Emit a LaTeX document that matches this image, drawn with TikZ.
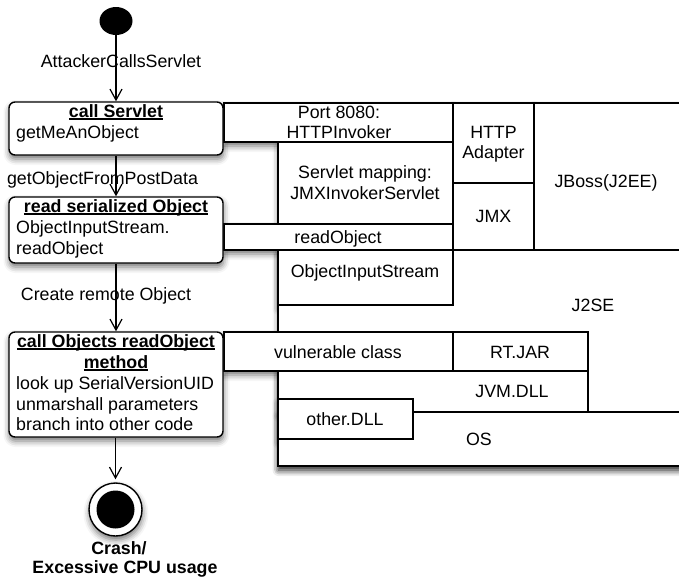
\documentclass[tikz,border=0pt]{standalone}
\usepackage{fontspec}
\setmainfont{Liberation Sans}
\usetikzlibrary{arrows.meta,fit,shapes.geometric,shadows.blur}

% bold text with a thick underline
\newcommand\ulbold[1]{{\setbox0\hbox{\bfseries #1}\rlap{\rule[-2.6pt]{\wd0}{1.3pt}}\box0}}

\begin{document}
\begin{tikzpicture}[x=1pt,y=-1pt,
  txt/.style={inner sep=0pt, font=\fontsize{17.8}{21}\selectfont},
  ctxt/.style={txt, anchor=base},
  ltxt/.style={txt, anchor=base west},
  boxline/.style={draw=black, line width=1.4pt, fill=white},
  layer/.style={boxline, inner sep=0pt},
  state/.style={boxline, inner sep=0pt, rounded corners=6pt},
  dropshade/.style={blur shadow={shadow xshift=0.5pt, shadow yshift=-4pt,
      shadow blur radius=6pt, shadow opacity=55}},
  flow/.style={line width=1.2pt, -{Straight Barb[length=11pt,width=12pt]}}
]
\useasboundingbox (0,0) rectangle (679,579);

% ---- shadows, kept underneath every shape ----
\foreach \xa/\ya/\xb/\yb in {278/250/690/466, 534/103/690/250, 278/412/690/466,
    278/371/588/412, 278/399/413/439, 453/332/588/371, 224/332/453/371,
    278/250/453/305, 278/142/453/224, 224/224/453/250, 453/103/534/183,
    453/183/534/250, 224/103/453/142}
  \path[dropshade] (\xa,\ya) rectangle (\xb,\yb);
\foreach \ya/\yb in {102/155, 197/263, 332/437}
  \path[dropshade, rounded corners=6pt] (9,\ya) rectangle (223,\yb);
\path[dropshade] (115.5,509.5) circle[radius=26.5];

% ---- platform layers ----
\node[layer, fit={(278,250) (690,466)}] (j2se) {};
\node[layer, fit={(534,103) (690,250)}] (jboss) {};
\node[layer, fit={(278,412) (690,466)}] (os) {};
\node[layer, fit={(278,371) (588,412)}] (jvm) {};
\node[layer, fit={(278,399) (413,439)}] (otherdll) {};
\node[layer, fit={(453,332) (588,371)}] (rtjar) {};
\node[layer, fit={(224,332) (453,371)}] (vulnclass) {};
\node[layer, fit={(278,250) (453,305)}] (ois) {};
\node[layer, fit={(278,142) (453,224)}] (mapping) {};
\node[layer, fit={(224,224) (453,250)}] (readobj) {};
\node[layer, fit={(453,103) (534,183)}] (adapter) {};
\node[layer, fit={(453,183) (534,250)}] (jmx) {};
\node[layer, fit={(224,103) (453,142)}] (port) {};

\node[ctxt] (t-port1) at (339,118) {Port 8080:};
\node[ctxt] (t-port2) at (339,138) {HTTPInvoker};
\node[ctxt] (t-adapter1) at (493.5,138) {HTTP};
\node[ctxt] (t-adapter2) at (493.5,158) {Adapter};
\node[ctxt] (t-jboss) at (606,187) {JBoss(J2EE)};
\node[ctxt] (t-map1) at (365,178) {Servlet mapping:};
\node[ctxt] (t-map2) at (365,199) {JMXInvokerServlet};
\node[ctxt] (t-jmx) at (493.5,222) {JMX};
\node[ctxt] (t-readobj) at (338,243) {readObject};
\node[ctxt] (t-ois) at (365,277) {ObjectInputStream};
\node[ctxt] (t-j2se) at (593,311) {J2SE};
\node[ctxt] (t-vuln) at (338,358) {vulnerable class};
\node[ctxt] (t-rtjar) at (520,358) {RT.JAR};
\node[ctxt] (t-jvm) at (512,397) {JVM.DLL};
\node[ctxt] (t-other) at (345,425) {other.DLL};
\node[ctxt] (t-os) at (479,445) {OS};

% ---- activity flow ----
\node[ellipse, fill=black, minimum width=33pt, minimum height=28pt, inner sep=0pt] (start) at (116,21) {};

\node[state, fit={(9,102) (223,155)}] (call) {};
\node[ctxt] (t-call1) at (116,117) {\ulbold{call Servlet}};
\node[ltxt] (t-call2) at (16,138.5) {getMeAnObject};

\node[state, fit={(9,197) (223,263)}] (readser) {};
\node[ctxt] (t-read1) at (116,212) {\ulbold{read serialized Object}};
\node[ltxt] (t-read2) at (16,233) {ObjectInputStream.};
\node[ltxt] (t-read3) at (16,254) {readObject};

\node[state, fit={(9,332) (223,437)}] (callobj) {};
\node[ctxt] (t-obj1) at (116,347) {\ulbold{call Objects readObject}};
\node[ctxt] (t-obj2) at (116,368) {\ulbold{method}};
\node[ltxt] (t-obj3) at (16,389) {look up SerialVersionUID};
\node[ltxt] (t-obj4) at (16,410) {unmarshall parameters};
\node[ltxt] (t-obj5) at (16,430) {branch into other code};

\node[circle, boxline, minimum size=53pt, inner sep=0pt] (finish) at (115.5,509.5) {};
\node[circle, fill=black, minimum size=38pt, inner sep=0pt] (finishdot) at (finish.center) {};
\node[ctxt, font=\fontsize{17.8}{21}\selectfont\bfseries] (t-end1) at (119,554) {Crash/};
\node[ctxt, font=\fontsize{17.8}{21}\selectfont\bfseries] (t-end2) at (125,573) {Excessive CPU usage};

\draw[flow] (start) -- (call);
\draw[flow] (call) -- (readser);
\draw[flow] (readser) -- (callobj);
\draw[flow, shorten >=3pt] (callobj.south -| finish.north) -- (finish.north);

\node[ctxt] (t-flow1) at (121,67) {AttackerCallsServlet};
\node[ctxt] (t-flow2) at (102.5,184) {getObjectFromPostData};
\node[ctxt] (t-flow3) at (106,300) {Create remote Object};
\end{tikzpicture}
\end{document}
